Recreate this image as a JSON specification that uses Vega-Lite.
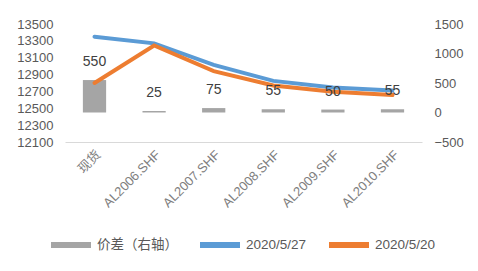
{
  "$schema": "https://vega.github.io/schema/vega-lite/v6.json",
  "width": 357,
  "height": 118,
  "autosize": {"type": "none"},
  "padding": {"left": 65, "top": 24, "right": 56, "bottom": 129},
  "background": "white",
  "config": {
    "font": "Liberation Sans, Noto Sans CJK SC",
    "view": {"stroke": null},
    "axis": {"grid": false, "ticks": false, "labelColor": "#595959", "labelFontSize": 13, "titleColor": "#595959"},
    "legend": {"labelColor": "#595959", "labelFontSize": 13.5}
  },
  "datasets": {
    "spread": [
      {"cat": "现货", "spread": 550},
      {"cat": "AL2006.SHF", "spread": 25},
      {"cat": "AL2007.SHF", "spread": 75},
      {"cat": "AL2008.SHF", "spread": 55},
      {"cat": "AL2009.SHF", "spread": 50},
      {"cat": "AL2010.SHF", "spread": 55}
    ],
    "blue": [
      {"cat": "现货", "price": 13350},
      {"cat": "AL2006.SHF", "price": 13270},
      {"cat": "AL2007.SHF", "price": 13015},
      {"cat": "AL2008.SHF", "price": 12825},
      {"cat": "AL2009.SHF", "price": 12746},
      {"cat": "AL2010.SHF", "price": 12712}
    ],
    "orange": [
      {"cat": "现货", "price": 12800},
      {"cat": "AL2006.SHF", "price": 13245},
      {"cat": "AL2007.SHF", "price": 12940},
      {"cat": "AL2008.SHF", "price": 12770},
      {"cat": "AL2009.SHF", "price": 12696},
      {"cat": "AL2010.SHF", "price": 12657}
    ]
  },
  "encoding": {
    "x": {
      "field": "cat", "type": "nominal", "sort": null,
      "scale": {"paddingInner": 0.61, "paddingOuter": 0.3},
      "axis": {"title": null, "labelAngle": -45, "labelPadding": 6, "domainColor": "#d9d9d9", "domainWidth": 1, "labelFontSize": 13, "labelColor": "#7f7f7f"}
    }
  },
  "layer": [
    {
      "data": {"name": "spread"},
      "mark": {"type": "bar", "color": "#A5A5A5"},
      "encoding": {
        "y": {
          "field": "spread", "type": "quantitative",
          "scale": {"domain": [-500, 1500], "nice": false, "zero": false},
          "axis": {"orient": "right", "title": null, "values": [-500, 0, 500, 1000, 1500], "domain": false, "labelPadding": 12, "format": "d"}
        },
        "color": {
          "datum": "价差（右轴）",
          "scale": {"domain": ["价差（右轴）", "2020/5/27", "2020/5/20"], "range": ["#A5A5A5", "#5B9BD5", "#ED7D31"]},
          "legend": {"title": null, "orient": "none", "direction": "horizontal", "legendX": -17, "legendY": 198, "symbolType": "stroke", "symbolSize": 1600, "symbolStrokeWidth": 6, "columnPadding": 10, "labelOffset": 3}
        }
      }
    },
    {
      "data": {"name": "blue"},
      "mark": {"type": "line", "strokeWidth": 4, "strokeCap": "round"},
      "encoding": {
        "y": {
          "field": "price", "type": "quantitative",
          "scale": {"domain": [12100, 13500], "nice": false, "zero": false},
          "axis": {"orient": "left", "title": null, "values": [12100, 12300, 12500, 12700, 12900, 13100, 13300, 13500], "domain": false, "labelPadding": 12, "format": "d"}
        },
        "color": {"datum": "2020/5/27"}
      }
    },
    {
      "data": {"name": "orange"},
      "mark": {"type": "line", "strokeWidth": 4, "strokeCap": "round"},
      "encoding": {
        "y": {
          "field": "price", "type": "quantitative",
          "scale": {"domain": [12100, 13500], "nice": false, "zero": false},
          "axis": null
        },
        "color": {"datum": "2020/5/20"}
      }
    },
    {
      "data": {"name": "spread"},
      "mark": {"type": "text", "dy": -18, "fontSize": 14, "color": "#404040"},
      "encoding": {
        "y": {
          "field": "spread", "type": "quantitative",
          "scale": {"domain": [-500, 1500], "nice": false, "zero": false},
          "axis": null
        },
        "text": {"field": "spread", "type": "quantitative"}
      }
    }
  ],
  "resolve": {"scale": {"y": "independent"}}
}
